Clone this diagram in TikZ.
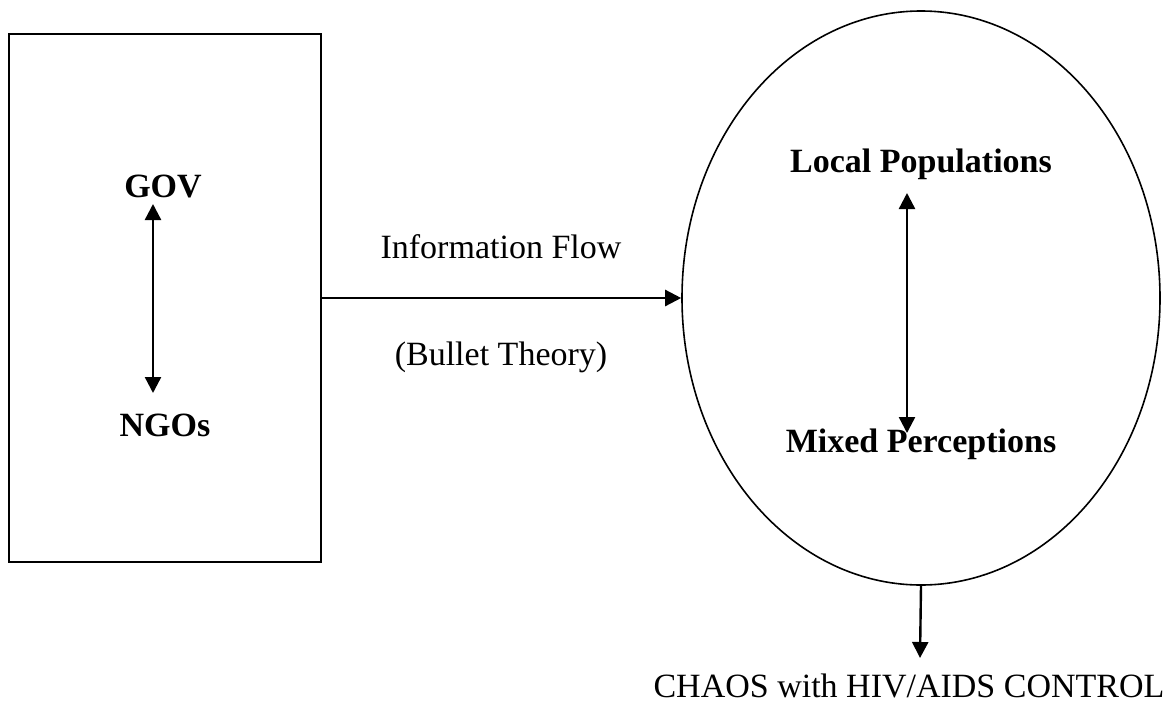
\documentclass[tikz,border=0pt]{standalone}
\usepackage{fontspec}
\setmainfont{Liberation Serif}
\usetikzlibrary{shapes.geometric,arrows.meta}
\begin{document}
\begin{tikzpicture}[x=1pt,y=-1pt,
  lbl/.style={font=\fontsize{34}{40}\selectfont, anchor=base, inner sep=0pt},
  blbl/.style={lbl, font=\fontsize{34}{40}\selectfont\bfseries},
  arr/.style={line width=2.4pt, -{Triangle[length=16pt,width=16pt]}},
  darr/.style={line width=2.4pt, {Triangle[length=16pt,width=16pt]}-{Triangle[length=16pt,width=16pt]}}]
\useasboundingbox (0,0) rectangle (1175,707);
\node[draw, line width=2.5pt, minimum width=312pt, minimum height=528pt, inner sep=0pt] (box) at (165,298) {};
\node[draw, ellipse, line width=1.6pt, minimum width=478pt, minimum height=574pt, inner sep=0pt] (ell) at (921,298) {};
\node[blbl] (gov) at (163,197) {GOV};
\node[blbl] (ngo) at (165,436) {NGOs};
\coordinate (g1) at (153,204);
\coordinate (g2) at (153,393);
\draw[darr] (g1) -- (g2);
\draw[arr] (box.east) -- (ell.west);
\node[lbl] (info) at (501,258) {Information Flow};
\node[lbl] (bul) at (501,365) {(Bullet Theory)};
\node[blbl] (loc) at (921,172) {Local Populations};
\node[blbl] (mix) at (921,452) {Mixed Perceptions};
\coordinate (l1) at (907,193);
\coordinate (l2) at (907,433);
\draw[darr] (l1) -- (l2);
\coordinate (c1) at (920,658);
\draw[arr] (ell.south) -- (c1);
\node[lbl] (chaos) at (909,697) {CHAOS with HIV/AIDS CONTROL};
\end{tikzpicture}
\end{document}
